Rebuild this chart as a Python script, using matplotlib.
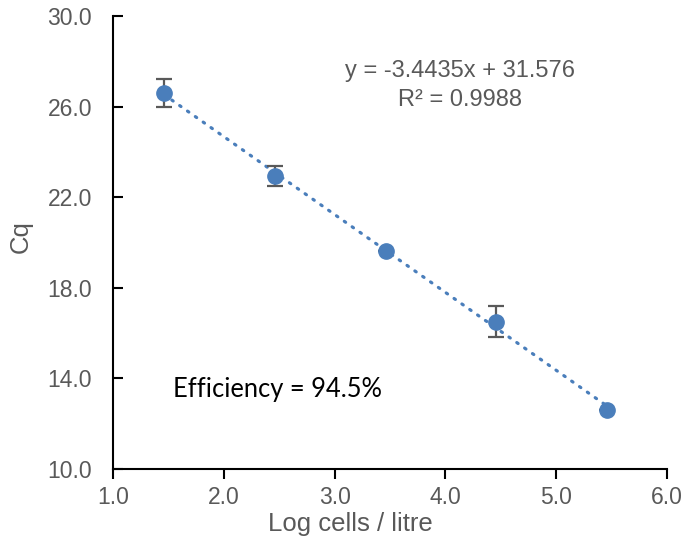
import numpy as np
import matplotlib
matplotlib.use("Agg")
import matplotlib.pyplot as plt

plt.rcParams['font.family'] = ['Liberation Sans', 'DejaVu Sans']

# standard curve data
log_cells = [1.46, 2.46, 3.46, 4.46, 5.46]
cq = [26.6, 22.93, 19.62, 16.5, 12.62]
cq_err = [0.63, 0.45, 0.0, 0.68, 0.0]

x_ticks = [1.0, 2.0, 3.0, 4.0, 5.0, 6.0]
y_ticks = [10.0, 14.0, 18.0, 22.0, 26.0, 30.0]

eq_text = "y = -3.4435x + 31.576"
r2_text = "R² = 0.9988"
eff_text = "Efficiency = 94.5%"

blue = '#4A7EBB'
grey = '#595959'

fig = plt.figure(figsize=(6.87, 5.45), dpi=100)
ax = fig.add_axes([0.1645, 0.1394, 0.971 - 0.1645, 0.9706 - 0.1394])

# trendline
slope, icpt = np.polyfit(log_cells, cq, 1)
xf = np.array([log_cells[0], log_cells[-1]])
ax.plot(xf, slope * xf + icpt, color=blue, lw=2.3, linestyle=(0, (0.5, 2.5)),
        dash_capstyle='round', zorder=2)

ax.errorbar(log_cells, cq, yerr=cq_err, fmt='none', ecolor=grey, elinewidth=1.6,
            capsize=5.5, capthick=1.6, zorder=3)
ax.plot(log_cells, cq, 'o', color=blue, markersize=11, zorder=4)

ax.set_xlim(1, 6)
ax.set_ylim(10, 30)
ax.set_xticks(x_ticks)
ax.set_yticks(y_ticks)
ax.set_xticklabels(['%.1f' % v for v in x_ticks])
ax.set_yticklabels(['%.1f' % v for v in y_ticks])

for s in ['top', 'right']:
    ax.spines[s].set_visible(False)
for s in ['left', 'bottom']:
    ax.spines[s].set_linewidth(1.5)
    ax.spines[s].set_color('black')

ax.tick_params(axis='x', direction='out', length=7, width=1.5, colors='black',
               labelcolor=grey, labelsize=16.5, pad=5.5)
ax.tick_params(axis='y', direction='in', length=7, width=1.5, colors='black',
               labelcolor=grey, labelsize=16.5, pad=15)

ax.set_xlabel('Log cells / litre', fontsize=18.5, color=grey)
ax.xaxis.set_label_coords(0.4287, -0.095)
ax.set_ylabel('Cq', fontsize=18.5, color=grey)
ax.yaxis.set_label_coords(-0.145, 0.514)

ax.text(0.6255, 0.8647, eq_text, transform=ax.transAxes, ha='center', va='baseline',
        fontsize=17, color=grey)
ax.text(0.6255, 0.8013, r2_text, transform=ax.transAxes, ha='center', va='baseline',
        fontsize=17, color=grey)
ax.text(0.1083, 0.1596, eff_text, transform=ax.transAxes, ha='left', va='baseline',
        fontsize=18.4, color='black', family=['Lato', 'DejaVu Sans'])

fig.savefig('out.png', dpi=100)
